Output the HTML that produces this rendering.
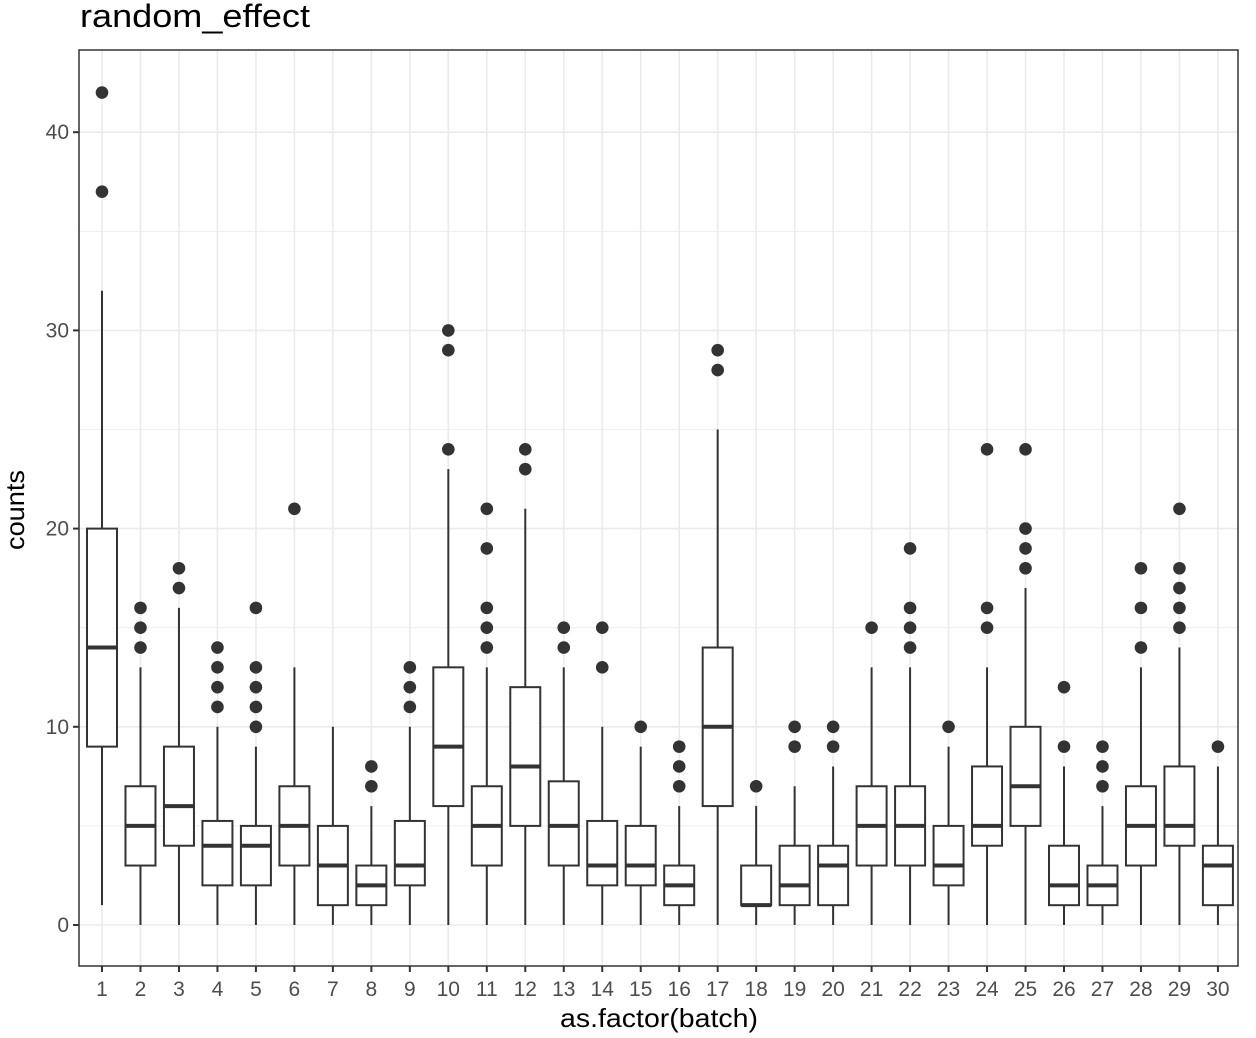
<!DOCTYPE html><html><head><style>body{margin:0;background:#fff}svg{display:block}</style></head><body>
<svg id="s" width="1256" height="1038" xmlns="http://www.w3.org/2000/svg" font-family="Liberation Sans, sans-serif"></svg>
<script>
const D=[[1,9,14,20,32,[37,42]],[0,3,5,7,13,[14,15,16]],[0,4,6,9,16,[17,18]],[0,2,4,5.25,10,[11,12,13,14]],[0,2,4,5,9,[10,11,12,13,16]],[0,3,5,7,13,[21]],[0,1,3,5,10,[]],[0,1,2,3,6,[7,8]],[0,2,3,5.25,10,[11,12,13]],[0,6,9,13,23,[24,29,30]],[0,3,5,7,13,[14,15,16,19,21]],[0,5,8,12,21,[23,24]],[0,3,5,7.25,13,[14,15]],[0,2,3,5.25,10,[13,15]],[0,2,3,5,9,[10]],[0,1,2,3,6,[7,8,9]],[0,6,10,14,25,[28,29]],[0,1,1,3,6,[7]],[0,1,2,4,7,[9,10]],[0,1,3,4,8,[9,10]],[0,3,5,7,13,[15]],[0,3,5,7,13,[14,15,16,19]],[0,2,3,5,9,[10]],[0,4,5,8,13,[15,16,24]],[0,5,7,10,17,[18,19,20,24]],[0,1,2,4,8,[9,12]],[0,1,2,3,6,[7,8,9]],[0,3,5,7,13,[14,16,18]],[0,4,5,8,14,[15,16,17,18,21]],[0,1,3,4,8,[9]]];
const L=79,R=1238,T=50,B=966,X=i=>102+(i-1)*38.48,Y=v=>925-v*19.82;
let h='<rect x="'+L+'" y="'+T+'" width="'+(R-L)+'" height="'+(B-T)+'" fill="#fff"/>';
for(let v=-5;v<=45;v+=5){if(Y(v)<T||Y(v)>B)continue;h+=`<line x1="${L}" x2="${R}" y1="${Y(v)}" y2="${Y(v)}" stroke="#ebebeb" stroke-width="${v%10?0.8:1.6}"/>`;}
for(let i=1;i<=30;i++)h+=`<line x1="${X(i)}" x2="${X(i)}" y1="${T}" y2="${B}" stroke="#ebebeb" stroke-width="1.6"/>`;
D.forEach((d,k)=>{const x=X(k+1),w=15,c='#333';
h+=`<line x1="${x}" x2="${x}" y1="${Y(d[0])}" y2="${Y(d[1])}" stroke="${c}" stroke-width="2"/><line x1="${x}" x2="${x}" y1="${Y(d[3])}" y2="${Y(d[4])}" stroke="${c}" stroke-width="2"/>`;
h+=`<rect x="${x-w}" y="${Y(d[3])}" width="${2*w}" height="${Y(d[1])-Y(d[3])}" fill="#fff" stroke="${c}" stroke-width="2"/>`;
h+=`<line x1="${x-w}" x2="${x+w}" y1="${Y(d[2])}" y2="${Y(d[2])}" stroke="${c}" stroke-width="4"/>`;
d[5].forEach(o=>h+=`<circle cx="${x}" cy="${Y(o)}" r="6.3" fill="${c}"/>`);
h+=`<line x1="${x}" x2="${x}" y1="${B}" y2="${B+6}" stroke="#333" stroke-width="2"/><text x="${x}" y="${B+30}" font-size="21" fill="#4d4d4d" text-anchor="middle">${k+1}</text>`;});
h+=`<rect x="${L}" y="${T}" width="${R-L}" height="${B-T}" fill="none" stroke="#333" stroke-width="1.5"/>`;
for(let v=0;v<=40;v+=10)h+=`<line x1="${L-6}" x2="${L}" y1="${Y(v)}" y2="${Y(v)}" stroke="#333" stroke-width="2"/><text x="${L-10}" y="${Y(v)+7}" font-size="21" fill="#4d4d4d" text-anchor="end">${v}</text>`;
h+=`<text x="80" y="27" font-size="32" fill="#000" textLength="230" lengthAdjust="spacingAndGlyphs">random_effect</text>`;
h+=`<text x="659" y="1027" font-size="26" text-anchor="middle" fill="#000" textLength="198" lengthAdjust="spacingAndGlyphs">as.factor(batch)</text>`;
h+=`<text transform="translate(24,510) rotate(-90)" font-size="26" text-anchor="middle" fill="#000" textLength="80" lengthAdjust="spacingAndGlyphs">counts</text>`;
document.getElementById('s').innerHTML=h;
</script></body></html>
